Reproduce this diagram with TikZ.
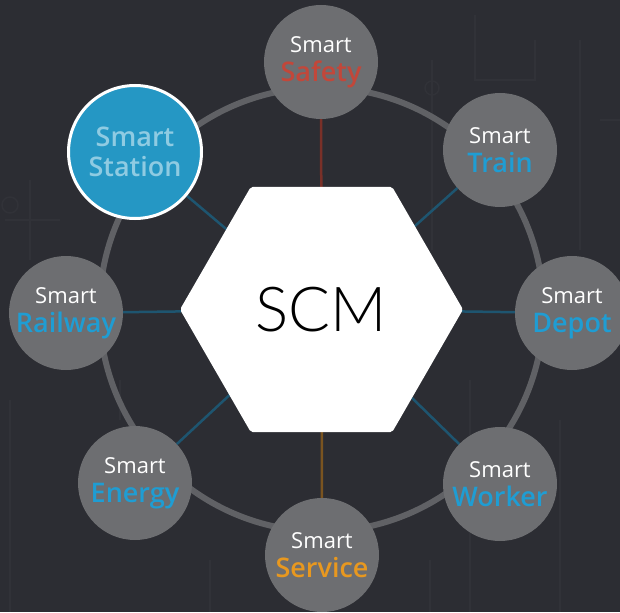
\documentclass[tikz,border=0pt]{standalone}
\usepackage{fontspec}
\setmainfont{Open Sans}[BoldFont={Open Sans Semibold}]
\newfontfamily\scmfont{Lato Light}
\usetikzlibrary{shapes.geometric,backgrounds}
\definecolor{bgdark}{HTML}{2C2D33}
\definecolor{bgline}{HTML}{313238}
\definecolor{nodegray}{HTML}{6D6E71}
\definecolor{ringgray}{HTML}{606165}
\definecolor{spokeblue}{HTML}{1E5570}
\definecolor{safetyline}{HTML}{7A3028}
\definecolor{serviceline}{HTML}{7A5420}
\definecolor{smartblue}{HTML}{1F9DD3}
\definecolor{smartred}{HTML}{C2473A}
\definecolor{smartorange}{HTML}{E8981F}
\definecolor{stationblue}{HTML}{2597C4}
\definecolor{stationtext}{HTML}{8FCBE2}
\tikzset{
  smartcircle/.style={circle,fill=nodegray,minimum size=114pt,inner sep=0pt,outer sep=0pt,
    align=center,text=white,font=\fontsize{22}{29}\selectfont},
  ring/.style={draw=ringgray,line width=6pt},
  spoke/.style={draw=spokeblue,line width=2.5pt},
  bgpath/.style={draw=bgline,line width=1.5pt},
}
\begin{document}
\begin{tikzpicture}[x=1pt,y=-1pt]
\useasboundingbox (0,0) rectangle (620,612);
% centre
\node[regular polygon,regular polygon sides=6,minimum size=283pt,inner sep=0pt,outer sep=0pt,
  fill=white,rounded corners=2pt] (scm) at (321.5,309.5) {\raisebox{-5pt}{\scmfont\fontsize{62}{62}\selectfont SCM}};
% the smart nodes
\foreach \nm/\pos/\word/\col in {safety/{321,62}/Safety/smartred,
    train/{500,150}/Train/smartblue,depot/{572,313}/Depot/smartblue,
    worker/{500,484}/Worker/smartblue,service/{322,555}/Service/smartorange,
    energy/{135,483}/Energy/smartblue,railway/{66,313}/Railway/smartblue}
  \node[smartcircle] (\nm) at (\pos) {\makebox[0pt]{Smart}\\
    \makebox[0pt]{\bfseries\fontsize{27}{29}\selectfont\color{\col}\word}};
\node[smartcircle,fill=stationblue,draw=white,line width=3pt,minimum size=133pt,
  text=stationtext,font=\bfseries\fontsize{27}{30}\selectfont] (station) at (135,152)
  {\makebox[0pt]{Smart}\\\makebox[0pt]{Station}};
\begin{scope}[on background layer]
  \fill[bgdark] (0,0) rectangle (620,612);
  % faint circuit lines
  \draw[bgpath] (432,60) -- (432,250) (475,15) -- (475,80) -- (535,80) -- (535,40);
  \draw[bgpath] (580,40) -- (580,250) (600,120) -- (620,120);
  \draw[bgpath] (5,220) -- (60,220) (30,180) -- (30,260) (10,400) -- (10,612);
  \draw[bgpath] (470,380) -- (470,612) (520,330) -- (620,330) (560,420) -- (560,612);
  \draw[bgpath] (120,380) -- (120,420) (210,560) -- (210,612) (430,560) -- (430,612);
  \draw[bgpath] (432,88) circle[radius=7pt] (10,205) circle[radius=8pt];
  % ring and spokes
  \draw[ring] (scm.center) circle[radius=222pt];
  \draw[spoke,draw=safetyline] (safety) -- (scm);
  \draw[spoke,draw=serviceline] (service) -- (scm);
  \foreach \nm in {train,depot,worker,energy,railway,station}
    \draw[spoke] (\nm) -- (scm);
\end{scope}
\end{tikzpicture}
\end{document}
